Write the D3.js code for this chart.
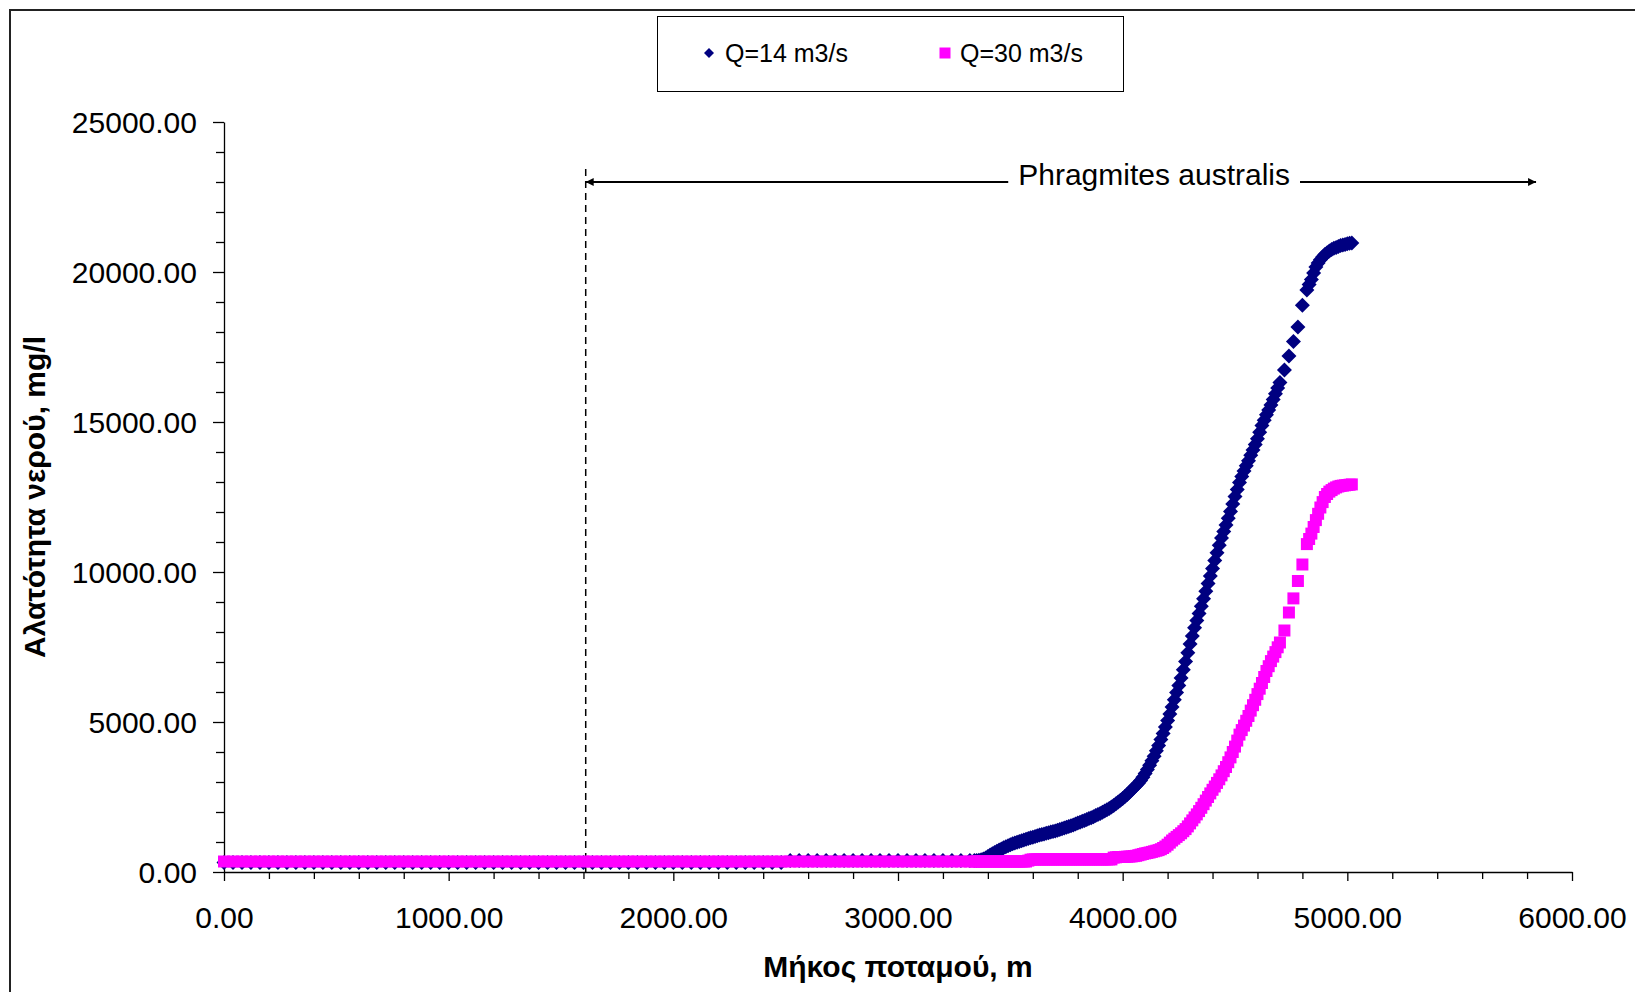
<!DOCTYPE html>
<html lang="el">
<head>
  <meta charset="UTF-8">
  <title>Αλατότητα νερού</title>
  <script src="https://d3js.org/d3.v7.min.js"></script>
  <style>
    body { margin: 0; background: #fff; }
    text { font-family: "Liberation Sans", Arial, sans-serif; fill: #000; }
  </style>
</head>
<body>
  <div id="chart"></div>
  <script>
    // river length, m (same stations for both runs)
    const distance = [
      0, 40, 80, 120, 160, 200, 240, 280, 320, 360, 400, 440, 480, 520, 560, 600, 640, 680, 720, 760,
      800, 840, 880, 920, 960, 1000, 1040, 1080, 1120, 1160, 1200, 1240, 1280, 1320, 1360, 1400, 1440, 1480, 1520, 1560,
      1600, 1640, 1680, 1720, 1760, 1800, 1840, 1880, 1920, 1960, 2000, 2040, 2080, 2120, 2160, 2200, 2240, 2280, 2320, 2360,
      2400, 2440, 2480, 2520, 2560, 2600, 2640, 2680, 2720, 2760, 2800, 2840, 2880, 2920, 2960, 3000, 3040, 3080, 3120, 3160,
      3200, 3240, 3280, 3320,
      3340, 3350, 3360, 3370, 3380, 3390, 3400, 3410, 3420, 3430, 3440, 3450, 3460, 3470, 3480, 3490, 3500, 3510, 3520, 3530,
      3540, 3550, 3560, 3570, 3580, 3590, 3600, 3610, 3620, 3630, 3640, 3650, 3660, 3670, 3680, 3690, 3700, 3710, 3720, 3730,
      3740, 3750, 3760, 3770, 3780, 3790, 3800, 3810, 3820, 3830, 3840, 3850, 3860, 3870, 3880, 3890, 3900, 3910, 3920, 3930,
      3940, 3950, 3960, 3970, 3980, 3990, 4000, 4010, 4020, 4030, 4040, 4050, 4060, 4070, 4080, 4090, 4100, 4110, 4120, 4130,
      4140, 4150, 4160, 4170, 4180, 4190, 4200, 4210, 4220, 4230, 4240, 4250, 4260, 4270, 4280, 4290, 4300, 4310, 4320, 4330,
      4340, 4350, 4360, 4370, 4380, 4390, 4400, 4410, 4420, 4430, 4440, 4450, 4460, 4470, 4480, 4490, 4500, 4510, 4520, 4530,
      4540, 4550, 4560, 4570, 4580, 4590, 4600, 4610, 4620, 4630, 4640, 4650, 4660, 4670, 4680, 4690, 4700,
      4720, 4740, 4760, 4780, 4800, 4820,
      4830, 4840, 4850, 4860, 4870, 4880, 4890, 4900, 4910, 4920, 4930, 4940, 4950, 4960, 4970, 4980, 4990, 5000, 5010, 5020
    ];

    // salinity mg/l, Q=14 m3/s
    const q14 = [
      320, 320, 320, 320, 320, 320, 320, 320, 320, 320, 320, 320, 320, 320, 320, 320, 320, 320, 320, 320,
      320, 320, 320, 320, 320, 320, 320, 320, 320, 320, 320, 320, 320, 320, 320, 320, 320, 320, 320, 320,
      320, 320, 320, 320, 320, 320, 320, 320, 320, 320, 320, 320, 320, 320, 320, 320, 320, 320, 320, 320,
      320, 320, 320, 380, 380, 380, 380, 380, 380, 380, 380, 380, 380, 380, 380, 380, 380, 380, 380, 380,
      380, 380, 380, 380,
      380, 385, 390, 405, 430, 470, 520, 565, 610, 650, 690, 730, 770, 805, 840, 875, 910, 940, 970, 995,
      1020, 1045, 1070, 1095, 1120, 1140, 1160, 1185, 1210, 1230, 1250, 1270, 1290, 1310, 1330, 1350, 1370, 1395, 1420, 1445,
      1470, 1495, 1520, 1545, 1570, 1600, 1630, 1660, 1690, 1720, 1750, 1780, 1810, 1845, 1880, 1915, 1950, 1990, 2030, 2075,
      2120, 2170, 2220, 2275, 2330, 2390, 2450, 2515, 2580, 2655, 2730, 2805, 2880, 2960, 3050, 3160, 3280, 3420, 3560, 3710,
      3860, 4040, 4220, 4420, 4620, 4830, 5050, 5270, 5500, 5740, 5980, 6220, 6470, 6740, 7020, 7310, 7600, 7870, 8140, 8380,
      8620, 8860, 9110, 9360, 9620, 9870, 10120, 10380, 10640, 10890, 11130, 11350, 11570, 11790, 12020, 12270, 12520, 12750, 12980, 13180,
      13370, 13540, 13710, 13890, 14070, 14250, 14440, 14660, 14880, 15060, 15240, 15400, 15570, 15750, 15940, 16130, 16320,
      16730, 17200, 17680, 18170, 18890, 19400,
      19580, 19750, 19970, 20170, 20300, 20410, 20500, 20580, 20640, 20700, 20750, 20790, 20820, 20850, 20880, 20900, 20920, 20940, 20955, 20970
    ];

    // salinity mg/l, Q=30 m3/s
    const q30 = [
      350, 350, 350, 350, 350, 350, 350, 350, 350, 350, 350, 350, 350, 350, 350, 350, 350, 350, 350, 350,
      350, 350, 350, 350, 350, 350, 350, 350, 350, 350, 350, 350, 350, 350, 350, 350, 350, 350, 350, 350,
      350, 350, 350, 350, 350, 350, 350, 350, 350, 350, 350, 350, 350, 350, 350, 350, 350, 350, 350, 350,
      350, 350, 350, 350, 350, 350, 350, 350, 350, 350, 350, 350, 350, 350, 350, 350, 350, 350, 350, 350,
      350, 350, 350, 350,
      350, 350, 350, 350, 350, 350, 350, 350, 350, 350, 350, 350, 350, 350, 350, 350, 350, 350, 350, 350,
      350, 350, 350, 350, 380, 410, 420, 420, 420, 420, 420, 420, 420, 420, 420, 420, 420, 420, 420, 420,
      420, 420, 420, 420, 420, 420, 420, 420, 420, 420, 420, 420, 420, 420, 420, 420, 420, 420, 420, 420,
      420, 420, 480, 490, 500, 500, 500, 505, 510, 515, 520, 530, 540, 560, 580, 600, 620, 635, 650, 670,
      690, 710, 730, 760, 800, 850, 910, 980, 1050, 1110, 1170, 1230, 1290, 1360, 1430, 1520, 1620, 1720, 1820, 1920,
      2030, 2140, 2260, 2380, 2500, 2620, 2740, 2850, 2970, 3090, 3220, 3360, 3500, 3660, 3820, 4000, 4180, 4380, 4580, 4730,
      4880, 5040, 5200, 5380, 5560, 5740, 5930, 6110, 6300, 6500, 6700, 6860, 7030, 7180, 7330, 7490, 7650,
      8050, 8650, 9120, 9700, 10250, 10930,
      11100, 11280, 11500, 11730, 11940, 12150, 12330, 12500, 12600, 12680, 12730, 12780, 12820, 12850, 12870, 12880, 12890, 12900, 12910, 12920
    ];

    const seriesNames = ["Q=14 m3/s", "Q=30 m3/s"];
    const xMajorTicks = [0, 1000, 2000, 3000, 4000, 5000, 6000];
    const yMajorTicks = [0, 5000, 10000, 15000, 20000, 25000];
    const reedStart = 1610;   // start of the Phragmites australis reach, m
    const reedEnd = 5840;
    const reedLabel = "Phragmites australis";

    const width = 1635, height = 992;
    const x = d3.scaleLinear().domain([0, 6000]).range([224, 1572]);
    const y = d3.scaleLinear().domain([0, 25000]).range([872, 122]);
    const fmt = d3.format(".2f");

    const svg = d3.select("#chart").append("svg")
      .attr("width", width).attr("height", height);
    svg.append("rect").attr("width", width).attr("height", height).attr("fill", "#fff");

    // chart frame (only top and left edge are inside the picture)
    svg.append("path").attr("d", "M10,992V10H1635")
      .attr("fill", "none").attr("stroke", "#222").attr("stroke-width", 2);

    // minor ticks
    const xMinor = d3.range(0, 6001, 200).filter(d => d % 1000 !== 0);
    const yMinor = d3.range(0, 25001, 1000).filter(d => d % 5000 !== 0);
    svg.append("g").attr("transform", "translate(0,872)")
      .call(d3.axisBottom(x).tickValues(xMinor).tickSize(7).tickFormat(""))
      .call(g => g.select(".domain").remove());
    svg.append("g").attr("transform", "translate(224,0)")
      .call(d3.axisLeft(y).tickValues(yMinor).tickSize(8).tickFormat(""))
      .call(g => g.select(".domain").remove());

    // major axes
    const xAxis = svg.append("g").attr("transform", "translate(0,872)")
      .call(d3.axisBottom(x).tickValues(xMajorTicks).tickSize(9).tickSizeOuter(0).tickFormat(fmt));
    xAxis.selectAll("text").attr("font-size", 30).attr("dy", null).attr("y", 56);
    const yAxis = svg.append("g").attr("transform", "translate(224,0)")
      .call(d3.axisLeft(y).tickValues(yMajorTicks).tickSize(11).tickSizeOuter(0).tickFormat(fmt).tickPadding(16));
    yAxis.selectAll("text").attr("font-size", 30).attr("dy", "0.35em");
    svg.selectAll(".domain, .tick line").attr("stroke", "#000").attr("stroke-width", 1.3);

    // axis titles
    svg.append("text").attr("x", (x(0) + x(6000)) / 2).attr("y", 977)
      .attr("text-anchor", "middle").attr("font-size", 30).attr("font-weight", "bold")
      .text("Μήκος ποταμού, m");
    svg.append("text").attr("transform", `translate(45,${(y(0) + y(25000)) / 2}) rotate(-90)`)
      .attr("text-anchor", "middle").attr("font-size", 30).attr("font-weight", "bold")
      .text("Αλατότητα νερού, mg/l");

    // reed zone annotation
    svg.append("line")
      .attr("x1", x(reedStart)).attr("x2", x(reedStart))
      .attr("y1", y(0)).attr("y2", y(23500))
      .attr("stroke", "#000").attr("stroke-width", 1.5).attr("stroke-dasharray", "7,5");

    svg.append("defs").append("marker")
      .attr("id", "arrow").attr("viewBox", "0 0 10 10")
      .attr("refX", 10).attr("refY", 5)
      .attr("markerWidth", 10).attr("markerHeight", 8)
      .attr("markerUnits", "userSpaceOnUse")
      .attr("orient", "auto-start-reverse")
      .append("path").attr("d", "M0,0L10,5L0,10Z").attr("fill", "#000");

    svg.append("line")
      .attr("x1", x(reedStart)).attr("x2", x(reedEnd))
      .attr("y1", y(23000)).attr("y2", y(23000))
      .attr("stroke", "#000").attr("stroke-width", 2)
      .attr("marker-start", "url(#arrow)").attr("marker-end", "url(#arrow)");

    const reedBg = svg.append("rect").attr("fill", "#fff");
    const reedText = svg.append("text")
      .attr("x", x(4140)).attr("y", y(23000) + 3)
      .attr("text-anchor", "middle").attr("font-size", 30)
      .text(reedLabel);
    const bb = reedText.node().getBBox();
    reedBg.attr("x", bb.x - 10).attr("y", bb.y).attr("width", bb.width + 20).attr("height", bb.height);

    // markers
    const diamond = r => `M0,${-r}L${r},0L0,${r}L${-r},0Z`;
    const square = s => `M${-s / 2},${-s / 2}h${s}v${s}h${-s}Z`;

    svg.append("g").selectAll("path")
      .data(distance.map((d, i) => [d, q14[i]]))
      .join("path")
      .attr("transform", d => `translate(${x(d[0])},${y(d[1])})`)
      .attr("d", diamond(7.5))
      .attr("fill", "#000080");

    svg.append("g").selectAll("path")
      .data(distance.map((d, i) => [d, q30[i]]))
      .join("path")
      .attr("transform", d => `translate(${x(d[0])},${y(d[1])})`)
      .attr("d", square(12))
      .attr("fill", "#ff00ff");

    // legend
    const legend = svg.append("g");
    legend.append("rect").attr("x", 657.5).attr("y", 16.5).attr("width", 466).attr("height", 75)
      .attr("fill", "#fff").attr("stroke", "#000").attr("stroke-width", 1);
    legend.append("path").attr("transform", "translate(709,53)").attr("d", diamond(5)).attr("fill", "#000080");
    legend.append("text").attr("x", 725).attr("y", 62).attr("font-size", 25).text(seriesNames[0]);
    legend.append("path").attr("transform", "translate(945,53)").attr("d", square(11)).attr("fill", "#ff00ff");
    legend.append("text").attr("x", 960).attr("y", 62).attr("font-size", 25).text(seriesNames[1]);
  </script>
</body>
</html>
